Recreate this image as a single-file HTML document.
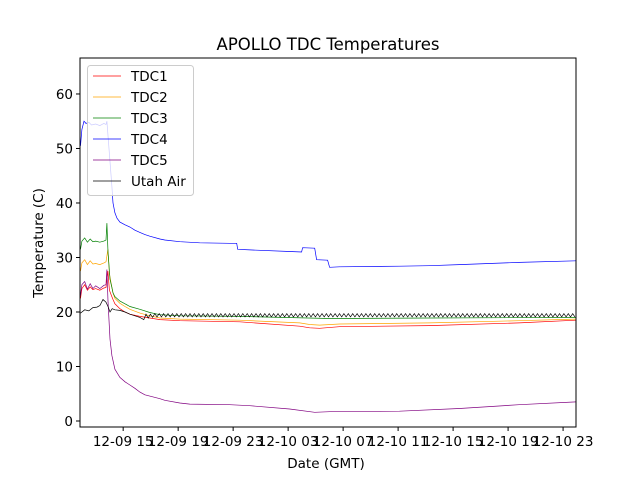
<!DOCTYPE html>
<html><head><meta charset="utf-8"><style>
body{margin:0;background:#fff;}
svg text{font-family:"DejaVu Sans","Liberation Sans",sans-serif;}
</style></head><body>
<svg id="chart" width="640" height="480" xmlns="http://www.w3.org/2000/svg">
<rect width="640" height="480" fill="#fff"/>
<text x="328" y="50" font-size="16.5" text-anchor="middle">APOLLO TDC Temperatures</text>
<text x="326" y="468" font-size="13.5" text-anchor="middle">Date (GMT)</text>
<text x="0" y="0" font-size="13.5" text-anchor="middle" transform="translate(43,243) rotate(-90)">Temperature (C)</text>
<g id="plot"></g>
<g id="axes"></g>
<g id="legend"></g>
</svg>
<script>
const xTickHours=[15,19,23,27,31,35,39,43,47];
const xTickLabels=["12-09 15","12-09 19","12-09 23","12-10 03","12-10 07","12-10 11","12-10 15","12-10 19","12-10 23"];
const yTicks=[0,10,20,30,40,50,60];
const seriesNames=["TDC1","TDC2","TDC3","TDC4","TDC5","Utah Air"];
const seriesColors=["red","orange","green","blue","purple","black"];
const t4=[11.90,12.0,12.15,12.3,12.5,12.7,13.0,13.3,13.6,13.75,13.82,14.0,14.18,14.26,14.4,14.55,14.76,15.13,15.49,15.85,16.22,16.58,16.94,17.67,18.03,19.12,20.57,22.75,23.26,23.33,24.21,27.11,27.98,28.05,28.93,29.07,29.87,30.02,30.74,35.10,37.28,39.46,43.81,47.94];
const v4=[50.5,53.5,55.0,54.6,54.8,54.3,54.5,54.2,54.6,54.4,55.0,49,43,40,38.2,37.2,36.5,36.0,35.6,35.0,34.6,34.2,33.9,33.4,33.2,32.9,32.7,32.6,32.6,31.5,31.4,31.1,31.0,31.8,31.7,29.6,29.5,28.2,28.3,28.4,28.5,28.7,29.1,29.4];
const t3=[11.90,12.0,12.2,12.4,12.6,12.8,13.0,13.3,13.6,13.75,13.82,13.9,14.04,14.18,14.26,14.4,14.76,15.13,15.49,16.22,16.94,17.67,19.12,23.48,30.02,37.28,47.94];
const v3=[31.5,33.0,33.6,32.8,33.4,32.9,33.0,32.8,33.0,33.2,36.3,31,26,24.5,23.5,22.8,22.0,21.5,21.0,20.5,19.9,19.5,19.3,19.2,18.8,18.9,19.0];
const t2=[11.90,12.0,12.2,12.4,12.6,12.8,13.0,13.3,13.6,13.75,13.89,14.0,14.18,14.26,14.4,14.76,15.13,15.49,16.22,16.94,17.67,19.12,23.48,27.84,28.56,29.29,30.74,37.28,43.81,47.94];
const v2=[27.5,29.0,29.6,28.7,29.4,28.8,28.9,28.7,29.0,29.2,31.5,27,24.5,23.5,22.5,21.6,21.0,20.5,19.8,19.3,18.9,18.7,18.5,18.0,17.7,17.6,17.8,18.0,18.4,18.7];
const t1=[11.90,12.0,12.2,12.4,12.6,12.8,13.0,13.3,13.6,13.75,13.89,14.0,14.18,14.26,14.4,14.76,15.13,15.49,16.22,16.94,17.67,19.12,23.48,27.84,28.56,29.29,30.74,37.28,43.81,47.94];
const v1=[22.5,24.3,25.0,24.0,24.6,24.1,24.3,24.0,24.4,24.5,27.5,24,22.8,22.3,21.5,20.6,20.0,19.6,19.2,18.9,18.6,18.4,18.2,17.4,17.1,17.0,17.3,17.5,18.0,18.5];
const t5=[11.90,12.0,12.2,12.4,12.6,12.8,13.0,13.3,13.6,13.75,13.82,13.9,14.04,14.18,14.4,14.76,15.13,15.49,15.85,16.22,16.58,17.67,18.03,19.12,19.85,22.75,24.21,27.11,28.93,30.02,35.10,39.46,43.81,47.94];
const v5=[23.0,25.0,25.6,24.2,25.2,24.3,24.8,24.3,24.9,25.0,27.8,22,15,12,9.5,8.0,7.2,6.6,6.0,5.3,4.8,4.1,3.8,3.3,3.1,3.0,2.8,2.2,1.6,1.7,1.8,2.3,3.0,3.5];
const tAirStart=[11.90,12.2,12.5,12.8,13.1,13.31,13.53,13.75,13.9,14.04,14.2,14.4,14.76,15.13,15.49,16.22,16.5];
const vAirStart=[19.8,20.4,20.2,20.8,20.9,21.2,22.3,21.8,21.0,20.0,20.6,20.4,20.3,20.0,19.6,19.0,18.6];
const airZigStart=16.66, airZigStep=0.16;
const vAirZig=[19.6,18.9,19.6,19.0,19.7,19.1,19.7,19.1,19.7,19.1,19.7,19.1,19.7,19.1,19.7,19.1,19.7,19.1,19.7,19.1,19.7,19.1,19.7,19.1,19.7,19.1,19.7,19.1,19.7,19.1,19.7,19.1,19.7,19.1,19.7,19.1,19.7,19.1,19.7,19.1,19.7,19.1,19.7,19.1,19.7,19.1,19.7,19.1,19.7,19.1,19.7,19.1,19.7,19.1,19.7,19.1,19.7,19.1,19.7,19.1,19.7,19.1,19.7,19.1,19.7,19.1,19.7,19.1,19.7,19.1,19.7,19.1,19.7,19.1,19.7,19.1,19.7,19.1,19.7,19.1,19.7,19.1,19.7,19.1,19.7,19.1,19.7,19.1,19.7,19.1,19.7,19.1,19.7,19.1,19.7,19.1,19.7,19.1,19.7,19.1,19.7,19.1,19.7,19.1,19.7,19.1,19.7,19.1,19.7,19.1,19.7,19.1,19.7,19.1,19.7,19.1,19.7,19.1,19.7,19.1,19.7,19.1,19.7,19.1,19.7,19.1,19.7,19.1,19.7,19.1,19.7,19.1,19.7,19.1,19.7,19.1,19.7,19.1,19.7,19.1,19.7,19.1,19.7,19.1,19.7,19.1,19.7,19.1,19.7,19.1,19.7,19.1,19.7,19.1,19.7,19.1,19.7,19.1,19.7,19.1,19.7,19.1,19.7,19.1,19.7,19.1,19.7,19.1,19.7,19.1,19.7,19.1,19.7,19.1,19.7,19.1,19.7,19.1,19.7,19.1,19.7,19.1,19.7,19.1,19.7,19.1,19.7,19.1,19.7,19.1,19.7,19.1,19.7,19.1,19.7,19.1];

const NS="http://www.w3.org/2000/svg";
const L=80,R=576,T=58,B=427,XMIN=11.86,XMAX=47.94,YMIN=-1.1,YMAX=66.6;
function xs(h){return L+(h-XMIN)/(XMAX-XMIN)*(R-L);}
function ys(v){return B-(v-YMIN)/(YMAX-YMIN)*(B-T);}
function mk(tag,attrs,parent){const e=document.createElementNS(NS,tag);for(const k in attrs)e.setAttribute(k,attrs[k]);parent.appendChild(e);return e;}
const plot=document.getElementById('plot'),axes=document.getElementById('axes'),leg=document.getElementById('legend');
const cp=mk('clipPath',{id:'clip'},plot);
mk('rect',{x:L,y:T,width:R-L,height:B-T},cp);
const airT=tAirStart.slice(),airV=vAirStart.slice();
vAirZig.forEach((v,i)=>{const h=airZigStart+i*airZigStep;if(h<=XMAX+0.3){airT.push(h);airV.push(v);}});
const allT=[t1,t2,t3,t4,t5,airT],allV=[v1,v2,v3,v4,v5,airV];
for(let s=0;s<6;s++){
  const d=allT[s].map((h,i)=>(i?'L':'M')+xs(h).toFixed(1)+','+ys(allV[s][i]).toFixed(1)).join('');
  const p=mk('path',{d:d,fill:'none',stroke:seriesColors[s],'stroke-width':0.7,'clip-path':'url(#clip)'},plot);
  
  
}
const frame=mk('rect',{x:L,y:T,width:R-L,height:B-T,fill:'none',stroke:'#000','stroke-width':1},axes);


xTickHours.forEach((h,i)=>{
  const x=xs(h);
  const tk=mk('line',{x1:x,x2:x,y1:B,y2:B+4,stroke:'#000'},axes);
  
  
  const t=mk('text',{x:x,y:B+19,'font-size':13.5,'text-anchor':'middle'},axes);
  t.textContent=xTickLabels[i];
  
  
});
yTicks.forEach(v=>{
  const y=ys(v);
  const tk=mk('line',{x1:L-4,x2:L,y1:y,y2:y,stroke:'#000'},axes);
  
  
  const t=mk('text',{x:L-7,y:y+5,'font-size':13.5,'text-anchor':'end'},axes);
  t.textContent=v;
  
  
});
const box=mk('rect',{x:87.5,y:65.5,width:106,height:130,rx:3,fill:'#fff','fill-opacity':0.8,stroke:'#ccc'},leg);


seriesNames.forEach((n,i)=>{
  const y=76+i*21;
  const ln=mk('line',{x1:93,x2:121,y1:y,y2:y,stroke:seriesColors[i],'stroke-width':0.8},leg);
  
  
  const t=mk('text',{x:131,y:y+5,'font-size':13.5},leg);
  t.textContent=n;
  
  
});
</script>
</body></html>
